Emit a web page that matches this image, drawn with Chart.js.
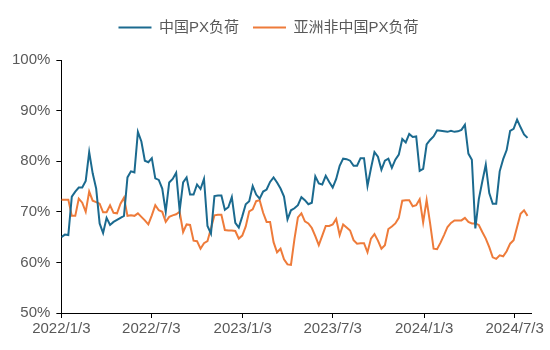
<!DOCTYPE html>
<html>
<head>
<meta charset="utf-8">
<script src="https://cdn.jsdelivr.net/npm/chart.js@4.4.1/dist/chart.umd.min.js"></script>
<style>
html,body{margin:0;padding:0;background:#fff;}
#wrap{width:550px;height:350px;position:relative;}
</style>
</head>
<body>
<div id="wrap"><canvas id="c"></canvas></div>
<script>
// Series names
const seriesNames = ["中国PX负荷", "亚洲非中国PX负荷"];
// Weekly data starting 2022/1/3 (values in %)
const startDate = "2022/1/3";
const chinaLoad = [
65.0,65.5,65.4,73.0,74.0,74.8,74.8,76.1,81.8,77.6,
74.6,67.7,65.8,68.8,67.4,68.0,68.4,68.8,69.2,76.8,
78.0,77.8,85.8,83.9,80.1,79.8,80.6,76.6,76.3,74.6,
70.0,75.8,76.5,77.7,70.2,75.8,76.8,73.4,73.4,75.4,
74.5,76.5,67.2,65.7,73.1,73.2,73.2,70.4,70.9,72.9,
67.8,66.9,69.1,71.5,72.1,75.1,73.4,72.6,74.0,74.4,
75.9,76.8,75.8,74.6,73.0,68.5,70.3,70.7,71.3,72.9,
72.3,71.5,71.8,77.0,75.6,75.4,77.1,75.9,74.8,76.5,
79.1,80.5,80.4,80.1,79.1,79.1,80.6,80.6,75.1,78.6,
81.8,80.9,78.3,80.1,80.5,78.7,80.3,81.3,84.4,83.7,
85.4,84.8,84.9,78.1,78.5,83.3,84.2,84.9,86.1,86.0,
85.9,85.8,86.0,85.8,85.9,86.2,87.2,81.5,80.3,66.7,
72.5,76.0,79.3,73.7,71.6,71.6,78.0,80.4,82.2,86.0,
86.4,88.2,86.7,85.3,84.6
];
const asiaExChinaLoad = [
72.4,72.4,72.4,69.2,69.2,72.6,71.8,70.0,74.0,72.2,
71.9,71.6,69.9,69.9,71.3,69.8,69.7,71.6,72.8,69.2,
69.3,69.2,69.7,69.0,68.3,67.5,69.3,71.3,70.3,70.0,
68.0,69.0,69.3,69.5,70.0,66.0,67.5,67.4,64.3,64.2,
62.7,63.8,64.2,66.7,69.3,69.4,69.4,66.4,66.3,66.3,
66.2,64.7,65.3,67.1,70.1,70.5,72.1,72.3,69.8,68.0,
68.0,64.0,62.0,62.7,60.6,59.6,59.5,64.6,68.9,69.7,
68.1,67.7,66.8,65.2,63.4,65.3,67.2,67.2,67.5,68.6,
65.4,67.5,66.9,66.3,64.4,63.7,63.8,63.8,62.0,64.7,
65.6,64.3,62.7,63.4,66.6,67.1,67.7,68.8,72.2,72.3,
72.3,71.1,71.3,72.5,67.9,72.3,67.7,62.7,62.6,63.9,
65.4,67.0,67.8,68.3,68.3,68.3,68.8,68.0,67.7,67.7,
67.4,66.0,64.7,63.0,61.0,60.7,61.4,61.2,62.2,63.7,
64.4,67.0,69.6,70.3,69.2
];
// Axis tick labels
const xTickLabels = ["2022/1/3","2022/7/3","2023/1/3","2023/7/3","2024/1/3","2024/7/3"];
const yTickValues = [50,60,70,80,90,100];

const colors = ["#1B6A8F", "#EE7B3A"];
const FONT = "'Liberation Sans', Arial, 'Noto Sans CJK SC', sans-serif";

function parseD(s){ const p = s.split('/').map(Number); return Date.UTC(p[0], p[1]-1, p[2]); }
const t0 = parseD(startDate);
const weekOf = s => (parseD(s) - t0) / (7*86400000);
const xTickPos = xTickLabels.map(weekOf);

const toXY = arr => arr.map((v,i)=>({x:i, y:v}));

const legendGap = {
  id: 'legendGap',
  beforeInit(chart){
    const orig = chart.legend.fit;
    chart.legend.fit = function(){ orig.call(this); this.height += 15; };
  }
};

new Chart(document.getElementById('c'), {
  type: 'line',
  plugins: [legendGap],
  data: {
    datasets: [
      {label: seriesNames[0], data: toXY(chinaLoad), borderColor: colors[0], backgroundColor: colors[0], borderWidth: 2, pointRadius: 0, tension: 0},
      {label: seriesNames[1], data: toXY(asiaExChinaLoad), borderColor: colors[1], backgroundColor: colors[1], borderWidth: 2, pointRadius: 0, tension: 0}
    ]
  },
  options: {
    responsive: true,
    maintainAspectRatio: false,
    animation: false,
    layout: {padding: {left: 6, right: 19, top: 6, bottom: 10}},
    plugins: {
      legend: {
        display: true,
        position: 'top',
        labels: {
          color: '#595959',
          font: {family: FONT, size: 15},
          boxWidth: 33,
          boxHeight: 2,
          padding: 14,
          generateLabels(chart){
            return chart.data.datasets.map((d,i)=>({
              text: d.label, fillStyle: d.borderColor, strokeStyle: d.borderColor,
              lineWidth: 0, hidden: false, datasetIndex: i, fontColor: '#595959'
            }));
          }
        }
      },
      tooltip: {enabled: false}
    },
    scales: {
      x: {
        type: 'linear',
        min: 0,
        max: 135,
        afterBuildTicks(axis){ axis.ticks = xTickPos.map(v=>({value:v})); },
        ticks: {
          color: '#595959',
          font: {family: FONT, size: 15},
          padding: 2,
          maxRotation: 0,
          autoSkip: false,
          callback(value){ const k = xTickPos.findIndex(p=>Math.abs(p-value)<1e-6); return k>=0 ? xTickLabels[k] : ''; }
        },
        grid: {drawOnChartArea: false, drawTicks: true, tickLength: 5, color: '#000'},
        border: {display: true, color: '#000', width: 1}
      },
      y: {
        min: 50,
        max: 100,
        afterBuildTicks(axis){ axis.ticks = yTickValues.map(v=>({value:v})); },
        ticks: {
          color: '#595959',
          font: {family: FONT, size: 15},
          padding: 6,
          callback(v){ return v + '%'; }
        },
        grid: {drawOnChartArea: false, drawTicks: true, tickLength: 5, color: '#000'},
        border: {display: true, color: '#000', width: 1}
      }
    }
  }
});
</script>
</body>
</html>
